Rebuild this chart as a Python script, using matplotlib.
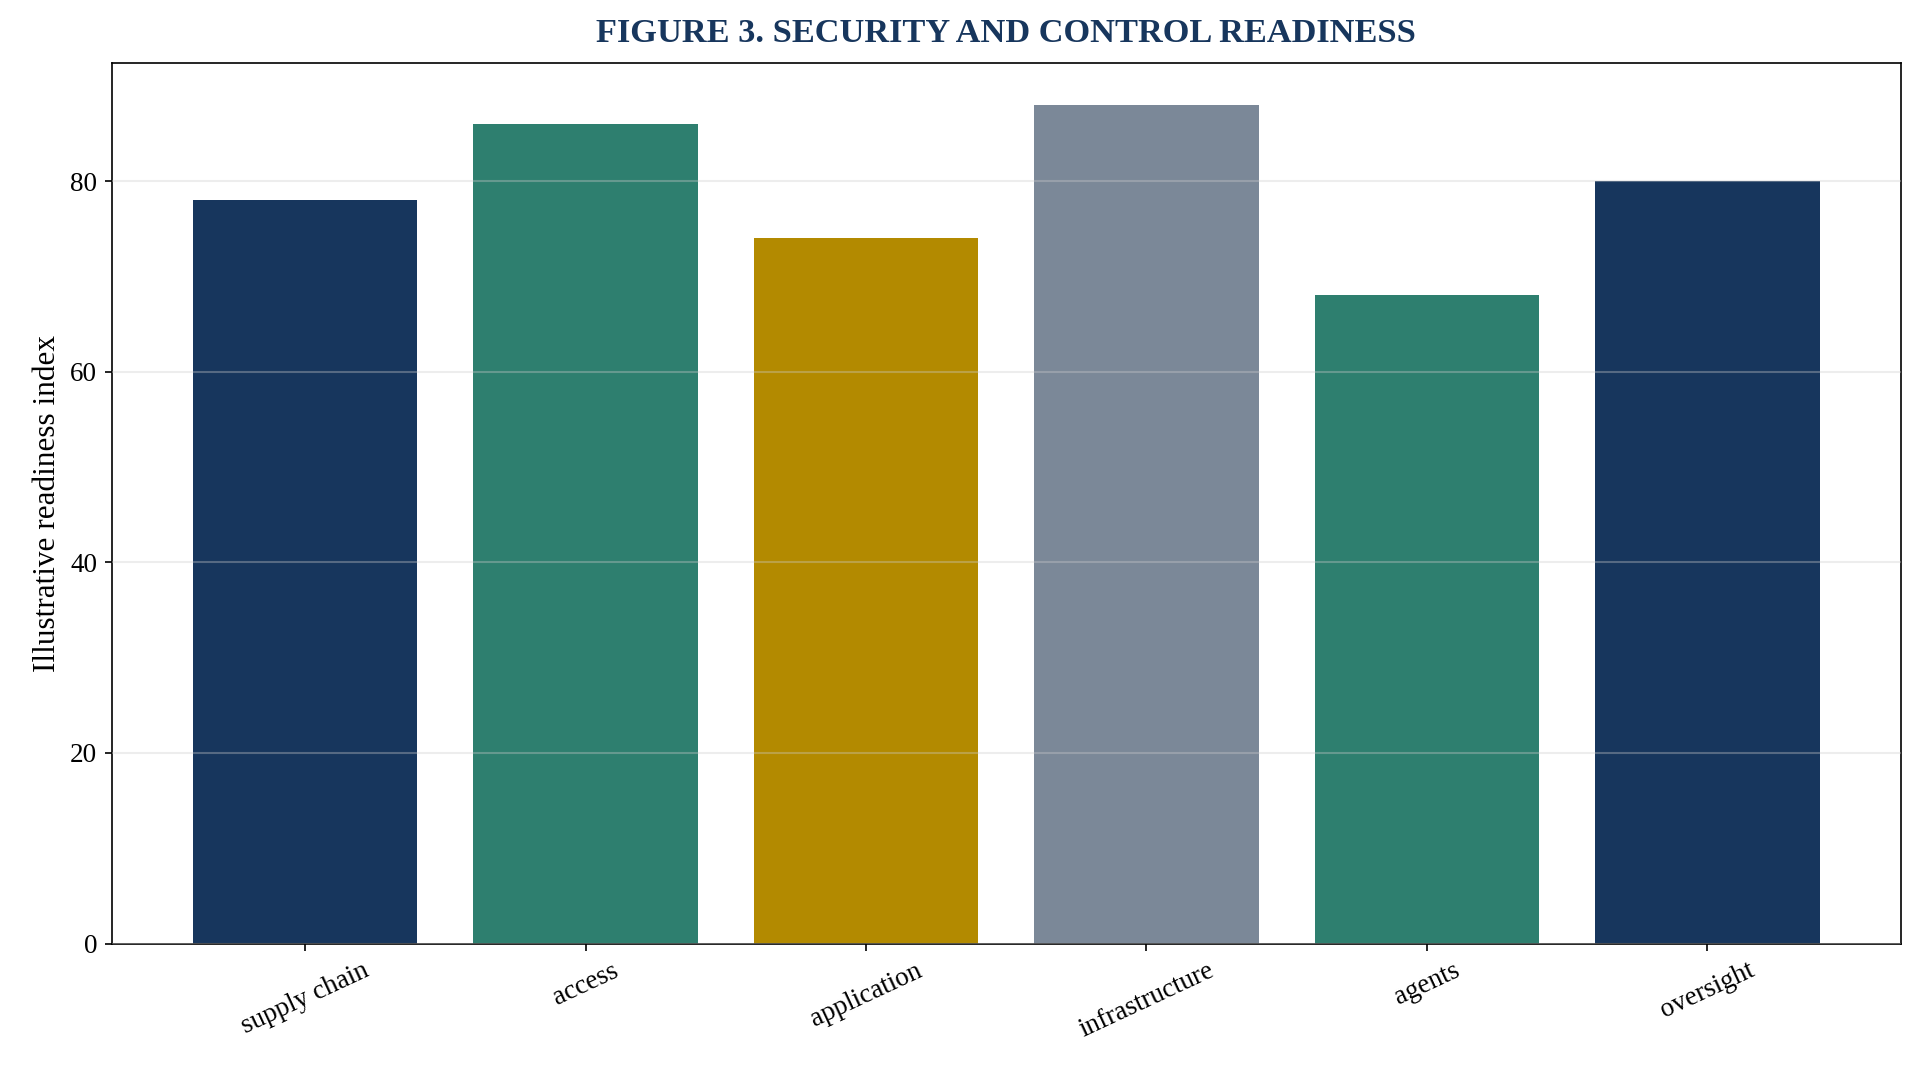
import matplotlib
matplotlib.use("Agg")
import matplotlib.pyplot as plt

categories = ['supply chain', 'access', 'application', 'infrastructure', 'agents', 'oversight']
readiness = [78, 86, 74, 88, 68, 80]
bar_colors = ['#17365d', '#2e7f6f', '#b38a00', '#7b8898', '#2e7f6f', '#17365d']

plt.rcParams['font.family'] = ['Liberation Serif', 'DejaVu Serif']

fig, ax = plt.subplots(figsize=(1924 / 150, 1067 / 150), dpi=150)
ax.bar(categories, readiness, color=bar_colors, width=0.8)

ax.set_title('FIGURE 3. SECURITY AND CONTROL READINESS', fontsize=16.5,
             fontweight='bold', color='#17365d', pad=10)
ax.set_ylabel('Illustrative readiness index', fontsize=15)
ax.tick_params(axis='both', labelsize=13)
ax.tick_params(axis='x', rotation=25)
for lab in ax.get_xticklabels():
    lab.set_ha('center')

ax.grid(axis='y', color='#cccccc', alpha=0.35, linewidth=1)
ax.set_axisbelow(False)

fig.subplots_adjust(left=0.058, right=0.988, top=0.941, bottom=0.1157)
fig.savefig('out.png', dpi=150)
